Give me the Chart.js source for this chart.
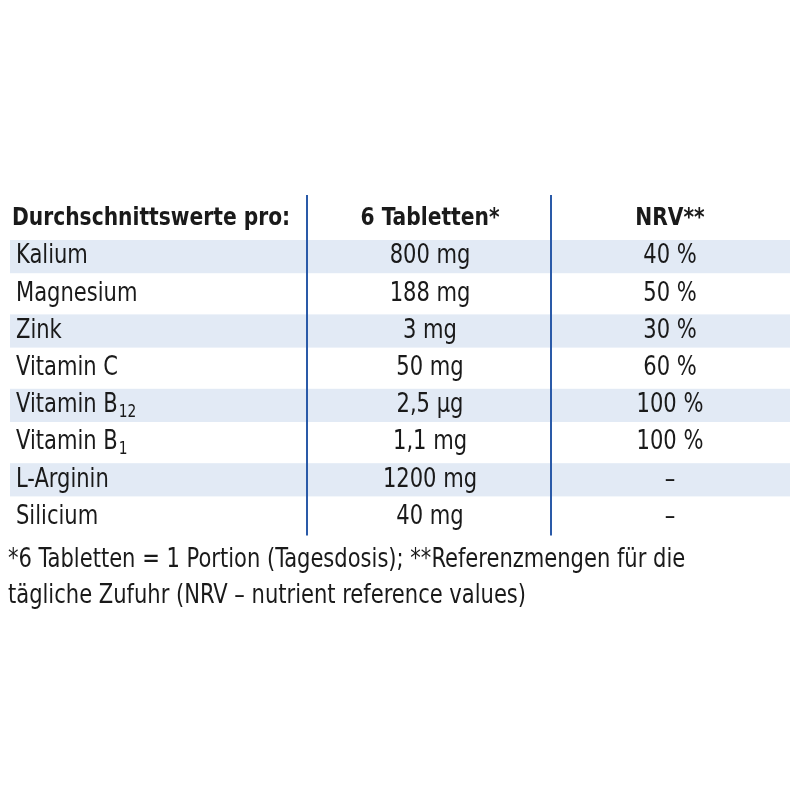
<!DOCTYPE html>
<html>
<head>
<meta charset="utf-8">
<script src="https://cdn.jsdelivr.net/npm/chart.js@4"></script>
<style>
  body { margin: 0; background: #fff; }
</style>
</head>
<body>
<canvas id="chart" width="800" height="800"></canvas>
<script>
const headers = ["Durchschnittswerte pro:", "6 Tabletten*", "NRV**"];
const nutrients = ["Kalium", "Magnesium", "Zink", "Vitamin C", "Vitamin B", "Vitamin B", "L-Arginin", "Silicium"];
const subscripts = ["", "", "", "", "12", "1", "", ""];
const amounts = ["800 mg", "188 mg", "3 mg", "50 mg", "2,5 µg", "1,1 mg", "1200 mg", "40 mg"];
const nrv = ["40 %", "50 %", "30 %", "60 %", "100 %", "100 %", "–", "–"];
const footnote = [
  "*6 Tabletten = 1 Portion (Tagesdosis); **Referenzmengen für die",
  "tägliche Zufuhr (NRV – nutrient reference values)"
];

const FONT = '"Liberation Sans Narrow", "DejaVu Sans Condensed", "Roboto Condensed", sans-serif';
const SX = 0.9; // squeeze text horizontally

function drawText(ctx, text, x, y, align) {
  ctx.save();
  ctx.translate(x, y);
  ctx.scale(SX, 1);
  ctx.textAlign = align;
  ctx.fillText(text, 0, 0);
  ctx.restore();
}

// draws the table on the chart canvas
const tablePlugin = {
  id: "table",
  afterDraw(chart) {
    const ctx = chart.ctx;
    const top = 238, rowH = 37.2, left = 10, right = 790;
    const col1 = 307, col2 = 551;
    const c2 = 430, c3 = 670;
    ctx.save();
    ctx.fillStyle = "#e2eaf5";
    nutrients.forEach((n, i) => {
      if (i % 2 === 0) ctx.fillRect(left, top + i * rowH + 2, right - left, rowH - 4);
    });
    ctx.strokeStyle = "#2a5aa8";
    ctx.lineWidth = 2;
    [col1, col2].forEach(x => {
      ctx.beginPath();
      ctx.moveTo(x, 195);
      ctx.lineTo(x, top + nutrients.length * rowH);
      ctx.stroke();
    });
    ctx.fillStyle = "#1a1a1a";
    ctx.textBaseline = "middle";
    ctx.font = "bold 25px " + FONT;
    drawText(ctx, headers[0], 12, 218, "left");
    drawText(ctx, headers[1], c2, 218, "center");
    drawText(ctx, headers[2], c3, 218, "center");
    nutrients.forEach((n, i) => {
      const y = top + i * rowH + rowH / 2;
      ctx.font = "26px " + FONT;
      drawText(ctx, n, 16, y, "left");
      if (subscripts[i]) {
        const w = ctx.measureText(n).width * SX;
        ctx.font = "17px " + FONT;
        drawText(ctx, subscripts[i], 16 + w + 1, y + 7, "left");
        ctx.font = "26px " + FONT;
      }
      drawText(ctx, amounts[i], c2, y, "center");
      drawText(ctx, nrv[i], c3, y, "center");
    });
    ctx.font = "26px " + FONT;
    footnote.forEach((line, i) => drawText(ctx, line, 8, 560 + i * 36, "left"));
    ctx.restore();
  }
};

new Chart(document.getElementById("chart"), {
  type: "bar",
  data: { labels: nutrients, datasets: [{ data: [] }] },
  options: {
    responsive: false,
    animation: false,
    plugins: { legend: { display: false }, tooltip: { enabled: false } },
    scales: { x: { display: false }, y: { display: false } }
  },
  plugins: [tablePlugin]
});
</script>
</body>
</html>
